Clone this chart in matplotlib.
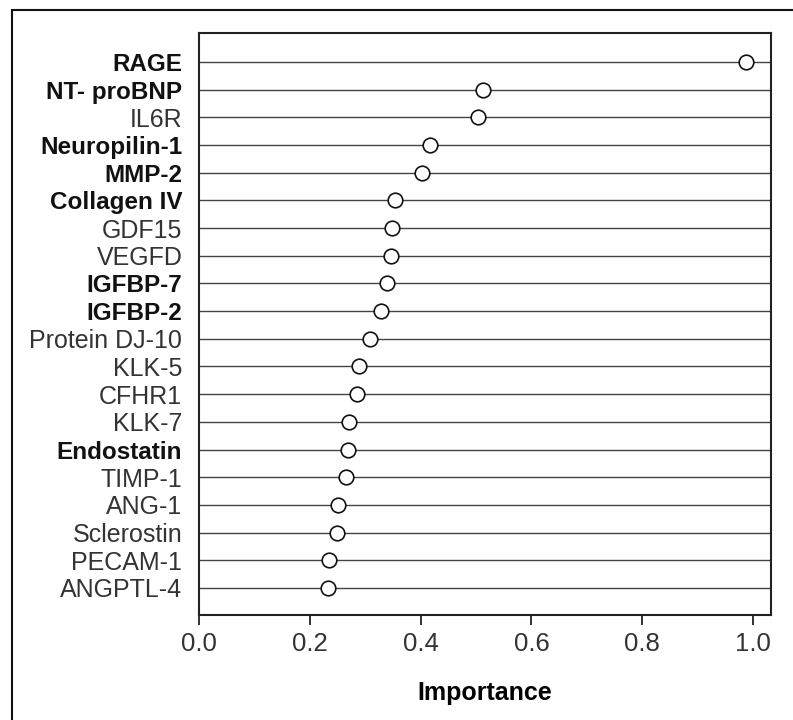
import matplotlib
matplotlib.use("Agg")
import matplotlib.pyplot as plt
from matplotlib.patches import Rectangle

proteins = ["RAGE", "NT- proBNP", "IL6R", "Neuropilin-1", "MMP-2", "Collagen IV",
            "GDF15", "VEGFD", "IGFBP-7", "IGFBP-2", "Protein DJ-10", "KLK-5",
            "CFHR1", "KLK-7", "Endostatin", "TIMP-1", "ANG-1", "Sclerostin",
            "PECAM-1", "ANGPTL-4"]
importance = [0.988, 0.513, 0.504, 0.417, 0.403, 0.354, 0.348, 0.347, 0.340,
              0.328, 0.309, 0.289, 0.286, 0.271, 0.269, 0.265, 0.251, 0.249,
              0.235, 0.233]
bold_labels = {"RAGE", "NT- proBNP", "Neuropilin-1", "MMP-2", "Collagen IV",
               "IGFBP-7", "IGFBP-2", "Endostatin"}
xticks = [0.0, 0.2, 0.4, 0.6, 0.8, 1.0]
xticklabels = ["0.0", "0.2", "0.4", "0.6", "0.8", "1.0"]

plt.rcParams['font.family'] = ['Liberation Sans', 'DejaVu Sans']

fig = plt.figure(figsize=(7.93, 7.2), dpi=100)
ax = fig.add_axes([199/793, 1-615/720, (771-199)/793, (615-33)/720])

# outer frame (only top and left visible)
fig.patches.append(Rectangle((12/793, -0.2), 1.3, 1.2 - 10/720,
                             transform=fig.transFigure, fill=False,
                             edgecolor='#111111', linewidth=1.5))

ypos = list(range(len(proteins)))
for y in ypos:
    ax.axhline(y, color='#444444', linewidth=1.0, zorder=1)
ax.plot(importance, ypos, linestyle='none', marker='o', markersize=10.5,
        markerfacecolor='white', markeredgecolor='#111111',
        markeredgewidth=1.2, zorder=3)

ax.set_xlim(0, 1.0325)
ax.set_ylim(19.98, -1.05)
ax.set_xticks(xticks)
ax.set_xticklabels(xticklabels, fontsize=18.5, color='#333333')
ax.set_yticks(ypos)
ax.set_yticklabels(proteins, fontsize=18, color='#333333')
for lab in ax.get_yticklabels():
    if lab.get_text() in bold_labels:
        lab.set_fontweight('bold')
        lab.set_fontsize(17.5)
        lab.set_color('#111111')
ax.tick_params(axis='y', length=0, pad=12)
ax.tick_params(axis='x', length=7, width=1.3, pad=5, color='#222222', direction='out')
for s in ax.spines.values():
    s.set_linewidth(1.5)
    s.set_color('#222222')
ax.set_xlabel("Importance", fontsize=18, fontweight='bold', labelpad=18)

fig.savefig("out.png", dpi=100)
